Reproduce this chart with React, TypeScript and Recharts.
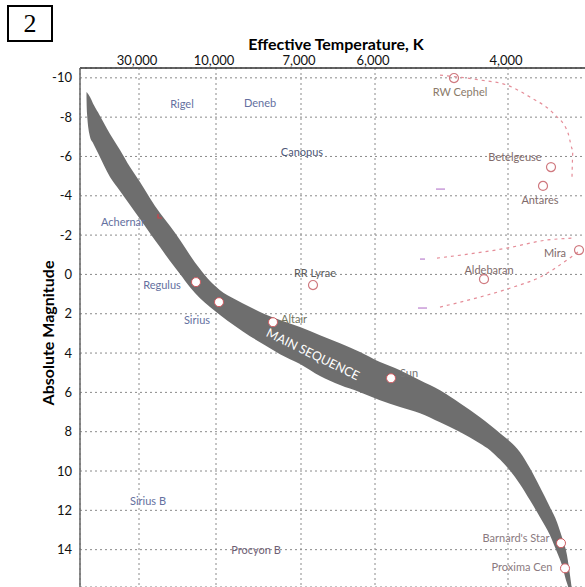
import { ComposedChart, Area, Line, Scatter, XAxis, YAxis, CartesianGrid } from "recharts";

// top axis: position along the chart and the temperature shown there
const tempTickPos = [0.59, 1.36, 2.21, 2.95, 4.28];
const tempTickLabels = ["30,000", "10,000", "7,000", "6,000", "4,000"];
const magTicks = [-10, -8, -6, -4, -2, 0, 2, 4, 6, 8, 10, 12, 14];

// main sequence band (upper and lower edge, magnitude)
const bandX = [0.065, 0.07, 0.1, 0.13, 0.18, 0.3, 0.4, 0.5, 0.6, 0.7, 0.8, 0.9, 1.0, 1.1, 1.2, 1.3, 1.4, 1.55, 1.7, 1.85, 2.0, 2.2, 2.4, 2.6, 2.8, 3.0, 3.2, 3.4, 3.6, 3.8, 4.0, 4.1, 4.2, 4.3, 4.4, 4.5, 4.6, 4.7, 4.77, 4.82, 4.87, 4.9, 4.92];
const bandTop = [-9.28, -9.25, -9.02, -8.7, -8.25, -7.14, -6.33, -5.46, -4.7, -3.88, -3.12, -2.46, -1.75, -0.98, -0.27, 0.34, 0.8, 1.26, 1.66, 2.02, 2.32, 2.68, 3.09, 3.5, 3.95, 4.46, 4.87, 5.38, 5.89, 6.55, 7.26, 7.66, 8.08, 8.5, 9.04, 9.86, 10.82, 11.84, 12.6, 13.37, 14.28, 15.3, 16.07];
const bandBottom = [-9.0, -8.2, -7.0, -6.68, -6.17, -4.95, -4.24, -3.53, -2.82, -2.1, -1.39, -0.68, -0.02, 0.65, 1.21, 1.66, 2.07, 2.63, 3.14, 3.6, 4.06, 4.56, 5.17, 5.63, 5.99, 6.4, 6.75, 7.06, 7.52, 8.02, 8.6, 8.94, 9.42, 9.98, 10.67, 11.49, 12.35, 13.27, 14.13, 14.79, 15.71, 16.07, 16.07];

// stars sitting on the main sequence
const msStars = [
  { x: 1.16, y: 0.39 },
  { x: 1.39, y: 1.41 },
  { x: 1.93, y: 2.43 },
  { x: 3.11, y: 5.28 },
  { x: 4.81, y: 13.67 },
  { x: 4.85, y: 14.95 },
];

// giants / variables (hollow circles)
const otherStars = [
  { x: 2.33, y: 0.54 },
  { x: 4.04, y: 0.24 },
  { x: 4.71, y: -5.46 },
  { x: 4.63, y: -4.5 },
  { x: 4.99, y: -1.24 },
  { x: 3.74, y: -9.99 },
];

const achernarMark = [{ x: 0.78, y: -2.87 }];

const trackA = [
  { x: 3.6, y: -10.14 }, { x: 4.0, y: -9.89 }, { x: 4.27, y: -9.63 }, { x: 4.5, y: -9.02 },
  { x: 4.73, y: -8.21 }, { x: 4.88, y: -7.19 }, { x: 4.93, y: -6.33 }, { x: 4.92, y: -4.95 },
];
const trackB = [
  { x: 3.57, y: -0.83 }, { x: 4.27, y: -1.34 }, { x: 4.67, y: -1.75 }, { x: 4.95, y: -1.85 },
];
const trackC = [
  { x: 3.6, y: 1.66 }, { x: 4.0, y: 1.15 }, { x: 4.33, y: 0.65 }, { x: 4.6, y: 0.14 },
  { x: 4.87, y: -0.73 }, { x: 4.98, y: -1.14 },
];
const dashes1 = [{ x: 3.56, y: -4.34 }, { x: 3.65, y: -4.34 }];
const dashes2 = [{ x: 3.4, y: -0.78 }, { x: 3.45, y: -0.78 }];
const dashes3 = [{ x: 3.38, y: 1.71 }, { x: 3.47, y: 1.71 }];

const starNames = ["Rigel", "Deneb", "Canopus", "Achernar", "Regulus", "Sirius", "Altair", "RR Lyrae", "Sun", "RW Cephel", "Betelgeuse", "Antares", "Mira", "Aldebaran", "Sirius B", "Procyon B", "Proxima Cen"];
const starLabelX = [1.02, 1.8, 2.22, 0.43, 0.82, 1.17, 2.14, 2.35, 3.29, 3.8, 4.35, 4.6, 4.75, 4.09, 0.68, 1.76, 4.42];
const starLabelY = [-8.67, -8.72, -6.23, -2.71, 0.49, 2.27, 2.22, -0.12, 4.97, -9.33, -6.02, -3.83, -1.09, -0.27, 11.48, 13.98, 14.84];
const starLabelColor = ["#6470a0", "#6470a0", "#4e5878", "#6470a0", "#6470a0", "#6470a0", "#72745e", "#5c5c5c", "#747474", "#8a7a6a", "#806a6a", "#806a6a", "#806a6a", "#806a6a", "#6470a0", "#6e5e74", "#8a7a80"];

const bandData = bandX.map((x, i) => ({ x, range: [bandTop[i], bandBottom[i]] }));
const labelData = starNames.map((name, i) => ({ x: starLabelX[i], y: starLabelY[i], name, color: starLabelColor[i] }));
const barnardLabel = [{ x: 4.36, y: 13.37, name: "Barnard's Star", color: "#8a7a80" }];
const bandLabel = [{ x: 2.33, y: 4.05, name: "MAIN SEQUENCE" }];

const FONT = "Lato, 'Open Sans', sans-serif";

const TempTick = (props: any) => {
  const { x, y, payload } = props;
  const i = tempTickPos.indexOf(payload.value);
  return (
    <text x={x - 2} y={y - 3} textAnchor="middle" fontSize={13} fontFamily={FONT} fill="#111">
      {tempTickLabels[i]}
    </text>
  );
};

const StarLabel = (props: any) => {
  const { cx, cy, payload } = props;
  return (
    <text x={cx} y={cy} textAnchor="middle" dominantBaseline="central" fontSize={11} fontFamily={FONT} fill={payload.color}>
      {payload.name}
    </text>
  );
};

const BandLabel = (props: any) => {
  const { cx, cy, payload } = props;
  return (
    <text x={cx} y={cy} textAnchor="middle" dominantBaseline="central" fontSize={12.5} fontFamily={FONT} fill="#fff" transform={`rotate(26 ${cx} ${cy})`}>
      {payload.name}
    </text>
  );
};

const RedTick = (props: any) => {
  const { cx, cy } = props;
  return <path d={`M${cx} ${cy - 4}L${cx} ${cy}L${cx + 4} ${cy}`} stroke="#d04048" strokeWidth={1.2} fill="none" />;
};

const trackStyle = { stroke: "#e58d98", strokeWidth: 1.2, strokeDasharray: "3 4" };

export default function App() {
  return (
    <div style={{ position: "absolute", left: 0, top: 0, width: 585, height: 587, overflow: "hidden", background: "#fff" }}>
      <div style={{ position: "absolute", left: 7, top: 5, width: 42, height: 33, border: "2px solid #000", fontFamily: "'Liberation Serif', serif", fontSize: 26, lineHeight: "33px", textAlign: "center" }}>
        2
      </div>
      <div style={{ position: "absolute", left: 236, top: 34, width: 200, textAlign: "center", fontFamily: FONT, fontWeight: 700, fontSize: 16 }}>
        Effective Temperature, K
      </div>
      <div style={{ position: "absolute", left: 47, top: 333, transform: "translate(-50%, -50%) rotate(-90deg)", whiteSpace: "nowrap", fontFamily: FONT, fontWeight: 700, fontSize: 16 }}>
        Absolute Magnitude
      </div>
      <div style={{ position: "absolute", left: 0, top: 0 }}>
        <ComposedChart width={592} height={587} data={bandData} margin={{ top: 0, right: 2, bottom: 0, left: 0 }}>
          <CartesianGrid stroke="#8a8a8a" strokeDasharray="2 3" />
          <XAxis
            dataKey="x"
            type="number"
            orientation="top"
            domain={[0, 5.1]}
            ticks={tempTickPos}
            height={68}
            tickSize={0}
            tickMargin={0}
            tick={<TempTick />}
            axisLine={{ stroke: "#333", strokeWidth: 1.5 }}
            allowDataOverflow
          />
          <YAxis
            dataKey="y"
            type="number"
            reversed
            domain={[-10.5, 15.9]}
            ticks={magTicks}
            width={80}
            tickSize={0}
            tickMargin={8}
            tick={{ fontSize: 13, fontFamily: FONT, fill: "#111" }}
            axisLine={{ stroke: "#666", strokeWidth: 1.5 }}
            allowDataOverflow
          />
          <Scatter data={barnardLabel} shape={<StarLabel />} isAnimationActive={false} />
          <Area dataKey="range" type="monotone" fill="#6e6e6e" fillOpacity={1} stroke="none" isAnimationActive={false} />
          <Line data={trackA} dataKey="y" type="monotone" {...trackStyle} dot={false} isAnimationActive={false} />
          <Line data={trackB} dataKey="y" type="monotone" {...trackStyle} dot={false} isAnimationActive={false} />
          <Line data={trackC} dataKey="y" type="monotone" {...trackStyle} dot={false} isAnimationActive={false} />
          <Line data={dashes1} dataKey="y" stroke="#c89ad8" strokeWidth={1.5} dot={false} isAnimationActive={false} />
          <Line data={dashes2} dataKey="y" stroke="#c89ad8" strokeWidth={1.5} dot={false} isAnimationActive={false} />
          <Line data={dashes3} dataKey="y" stroke="#c89ad8" strokeWidth={1.5} dot={false} isAnimationActive={false} />
          <Scatter data={achernarMark} shape={<RedTick />} isAnimationActive={false} />
          <Scatter data={otherStars} fill="none" stroke="#d07a80" strokeWidth={1.2} shape="circle" isAnimationActive={false} />
          <Scatter data={msStars} fill="#fff" stroke="#d05a60" strokeWidth={1} shape="circle" isAnimationActive={false} />
          <Scatter data={labelData} shape={<StarLabel />} isAnimationActive={false} />
          <Scatter data={bandLabel} shape={<BandLabel />} isAnimationActive={false} />
        </ComposedChart>
      </div>
    </div>
  );
}
